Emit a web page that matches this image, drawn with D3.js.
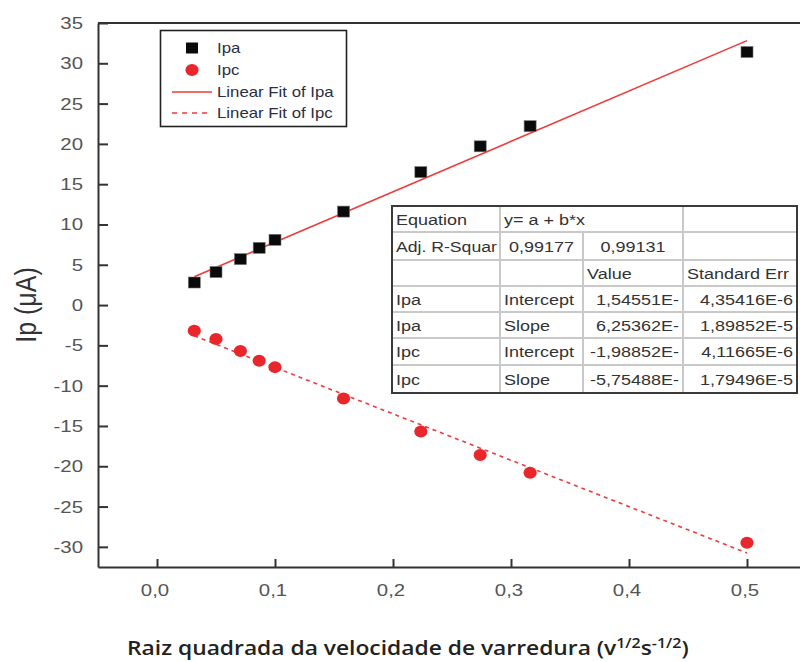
<!DOCTYPE html>
<html>
<head>
<meta charset="utf-8">
<script src="https://cdn.jsdelivr.net/npm/d3@7"></script>
<style>
  html, body { margin: 0; padding: 0; background: #fff; }
  svg { display: block; }
</style>
</head>
<body>
<svg id="chart" width="800" height="662"></svg>
<script>
// Square root of the scan rate, (V/s)^1/2
const sqrtScanRate = [0.0316, 0.05, 0.0707, 0.0866, 0.1, 0.1581, 0.2236, 0.2739, 0.3162, 0.5];
// Anodic peak current, µA
const ipa = [2.8, 4.1, 5.7, 7.1, 8.1, 11.6, 16.5, 19.7, 22.2, 31.4];
// Cathodic peak current, µA
const ipc = [-3.2, -4.2, -5.7, -6.9, -7.7, -11.6, -15.7, -18.6, -20.8, -29.5];

// Linear fit parameters (intercept in µA, slope in µA per (V/s)^1/2)
const fitIntercept = [1.54551, -1.98852];
const fitSlope = [62.5362, -57.5488];

const xTicks = [0, 0.1, 0.2, 0.3, 0.4, 0.5];
const yTicks = [-30, -25, -20, -15, -10, -5, 0, 5, 10, 15, 20, 25, 30, 35];

const legendLabels = ["Ipa", "Ipc", "Linear Fit of Ipa", "Linear Fit of Ipc"];

// Fit results table; null marks a cell merged into the one on its left
const tableRows = [
  ["Equation", "y= a + b*x", null, ""],
  ["Adj. R-Squar", "0,99177", "0,99131", ""],
  ["", "", "Value", "Standard Err"],
  ["Ipa", "Intercept", "1,54551E-", "4,35416E-6"],
  ["Ipa", "Slope", "6,25362E-", "1,89852E-5"],
  ["Ipc", "Intercept", "-1,98852E-", "4,11665E-6"],
  ["Ipc", "Slope", "-5,75488E-", "1,79496E-5"]
];

const RED = "#e8262b";
const FIT_RED = "#ef3a3a";
const STRETCH = 1.2;   // text is drawn slightly widened

const svg = d3.select("#chart");

const x = d3.scaleLinear().domain([-0.05, 0.55]).range([98, 806]);
const y = d3.scaleLinear().domain([-32.5, 35]).range([567, 23]);

// widened text helper; maxWidth squeezes the text to fit a cell
function wideText(parent, px, py, str, opt = {}) {
  const g = parent.append("g");
  const t = g.append("text")
    .attr("x", 0).attr("y", 0)
    .attr("text-anchor", opt.anchor || "start")
    .attr("font-family", opt.family || "'Liberation Sans', Arial, sans-serif")
    .attr("font-size", opt.size || 14)
    .attr("font-weight", opt.weight || "normal")
    .attr("fill", opt.fill || "#333")
    .text(str);
  let k = opt.stretch || STRETCH;
  if (opt.maxWidth) {
    const w = t.node().getComputedTextLength();
    if (w * k > opt.maxWidth) k = opt.maxWidth / w;
  }
  g.attr("transform", `translate(${px},${py}) scale(${k},1)`);
  return t;
}

// ---- axes ----
const axisColor = "#333";
const yAxis = d3.axisLeft(y).tickValues(yTicks).tickSizeInner(-10).tickSizeOuter(0).tickFormat("");
const xAxis = d3.axisBottom(x).tickValues(xTicks).tickSizeInner(-8).tickSizeOuter(0).tickFormat("");

const gy = svg.append("g").attr("transform", `translate(${x.range()[0]},0)`).call(yAxis);
const gx = svg.append("g").attr("transform", `translate(0,${y.range()[0]})`).call(xAxis);
[gx, gy].forEach(g => {
  g.select(".domain").attr("stroke", axisColor).attr("stroke-width", 2);
  g.selectAll(".tick line").attr("stroke", axisColor).attr("stroke-width", 2);
});
// top frame line
svg.append("line")
  .attr("x1", x.range()[0]).attr("x2", x.range()[1])
  .attr("y1", y.range()[1]).attr("y2", y.range()[1])
  .attr("stroke", axisColor).attr("stroke-width", 2);

// tick labels
yTicks.forEach(v => {
  wideText(svg, x.range()[0] - 15, y(v) + 6, String(v), {anchor: "end", size: 17, fill: "#555"});
});
xTicks.forEach(v => {
  wideText(svg, x(v) - 2, 596, v.toFixed(1).replace(".", ","), {anchor: "middle", size: 17, fill: "#555"});
});

// axis titles
const yTitleG = svg.append("g").attr("transform", `translate(36,305) scale(${STRETCH},1) rotate(-90)`);
const yTitle = yTitleG.append("text")
  .attr("text-anchor", "middle")
  .attr("font-family", "'Liberation Sans', Arial, sans-serif")
  .attr("font-size", 25).attr("fill", "#333");
yTitle.append("tspan").text("Ip (");
yTitle.append("tspan").text("\u03BC");
yTitle.append("tspan").text("A)");

const xTitle = svg.append("text")
  .attr("font-family", "'Open Sans', 'Noto Sans', sans-serif")
  .attr("font-weight", 600)
  .attr("font-size", 20)
  .attr("fill", "#222")
  .attr("x", 0).attr("y", 0);
xTitle.append("tspan").text("Raiz quadrada da velocidade de varredura (v");
xTitle.append("tspan").attr("font-size", 14).attr("dy", -7).text("1/2");
xTitle.append("tspan").attr("dy", 7).text("s");
xTitle.append("tspan").attr("font-size", 14).attr("dy", -7).text("-1/2");
xTitle.append("tspan").attr("dy", 7).text(")");
{
  const bb = xTitle.node().getBBox();
  const target = 562, left = 127, baseline = 655;
  xTitle.attr("transform", `translate(${left},${baseline}) scale(${target / bb.width},1)`);
}

// ---- fit lines ----
const xMin = d3.min(sqrtScanRate), xMax = d3.max(sqrtScanRate);
const fitLine = d3.line().x(d => x(d[0])).y(d => y(d[1]));
[0, 1].forEach(i => {
  const pts = [xMin, xMax].map(v => [v, fitIntercept[i] + fitSlope[i] * v]);
  svg.append("path")
    .attr("d", fitLine(pts))
    .attr("fill", "none")
    .attr("stroke", FIT_RED)
    .attr("stroke-width", 1.6)
    .attr("stroke-dasharray", i === 1 ? "4,4" : null);
});

// ---- markers ----
svg.append("g").selectAll("rect")
  .data(sqrtScanRate.map((v, i) => [v, ipa[i]]))
  .join("rect")
  .attr("x", d => x(d[0]) - 6).attr("y", d => y(d[1]) - 5.5)
  .attr("width", 12).attr("height", 11)
  .attr("fill", "#0a0a0a").attr("stroke", "#777").attr("stroke-width", 0.6);

svg.append("g").selectAll("ellipse")
  .data(sqrtScanRate.map((v, i) => [v, ipc[i]]))
  .join("ellipse")
  .attr("cx", d => x(d[0])).attr("cy", d => y(d[1]))
  .attr("rx", 6.6).attr("ry", 6)
  .attr("fill", RED);

// ---- legend ----
const lg = svg.append("g");
lg.append("rect")
  .attr("x", 160.5).attr("y", 30.5).attr("width", 186).attr("height", 96)
  .attr("fill", "#fff").attr("stroke", "#222").attr("stroke-width", 1.6);
const rowY = [48, 70, 92, 113];
lg.append("rect").attr("x", 186).attr("y", rowY[0] - 5.5).attr("width", 12).attr("height", 11).attr("fill", "#0a0a0a");
lg.append("ellipse").attr("cx", 192).attr("cy", rowY[1]).attr("rx", 6.6).attr("ry", 6).attr("fill", RED);
lg.append("line").attr("x1", 172).attr("x2", 212).attr("y1", rowY[2]).attr("y2", rowY[2])
  .attr("stroke", FIT_RED).attr("stroke-width", 1.6);
lg.append("line").attr("x1", 172).attr("x2", 212).attr("y1", rowY[3]).attr("y2", rowY[3])
  .attr("stroke", FIT_RED).attr("stroke-width", 1.6).attr("stroke-dasharray", "5,5");
legendLabels.forEach((t, i) => {
  wideText(lg, 217, rowY[i] + 5, t, {size: 14, fill: "#2a2f45"});
});

// ---- fit results table ----
const colX = [392, 500, 583, 683, 797];
const rowLines = [206, 232, 260, 286, 312, 338, 365, 393];
const tg = svg.append("g");
tg.append("rect")
  .attr("x", colX[0]).attr("y", rowLines[0])
  .attr("width", colX[4] - colX[0]).attr("height", rowLines[rowLines.length - 1] - rowLines[0])
  .attr("fill", "#fff");

// inner grid
tableRows.forEach((row, r) => {
  const y0 = rowLines[r], y1 = rowLines[r + 1];
  for (let c = 1; c < 4; c++) {
    if (row[c] === null) continue;
    tg.append("line").attr("x1", colX[c]).attr("x2", colX[c]).attr("y1", y0).attr("y2", y1)
      .attr("stroke", "#c9c9c9").attr("stroke-width", 2);
  }
  if (r > 0) {
    tg.append("line").attr("x1", colX[0]).attr("x2", colX[4]).attr("y1", y0).attr("y2", y0)
      .attr("stroke", "#c9c9c9").attr("stroke-width", 2);
  }
});
tg.append("rect")
  .attr("x", colX[0]).attr("y", rowLines[0])
  .attr("width", colX[4] - colX[0]).attr("height", rowLines[rowLines.length - 1] - rowLines[0])
  .attr("fill", "none").attr("stroke", "#3a3a3a").attr("stroke-width", 2);

tableRows.forEach((row, r) => {
  const base = (rowLines[r] + rowLines[r + 1]) / 2 + 5.5;
  row.forEach((cell, c) => {
    if (!cell) return;
    const numeric = /^-?\d/.test(cell);
    let span = 1;
    while (c + span < row.length && row[c + span] === null) span++;
    const left = colX[c], right = colX[c + span];
    const maxWidth = right - left - 7;
    if (!numeric) {
      wideText(tg, left + 4, base, cell, {size: 15, maxWidth});
    } else if (r === 1) {
      wideText(tg, (left + right) / 2, base, cell, {size: 15, anchor: "middle", maxWidth});
    } else {
      wideText(tg, right - 4, base, cell, {size: 15, anchor: "end", maxWidth});
    }
  });
});
</script>
</body>
</html>
